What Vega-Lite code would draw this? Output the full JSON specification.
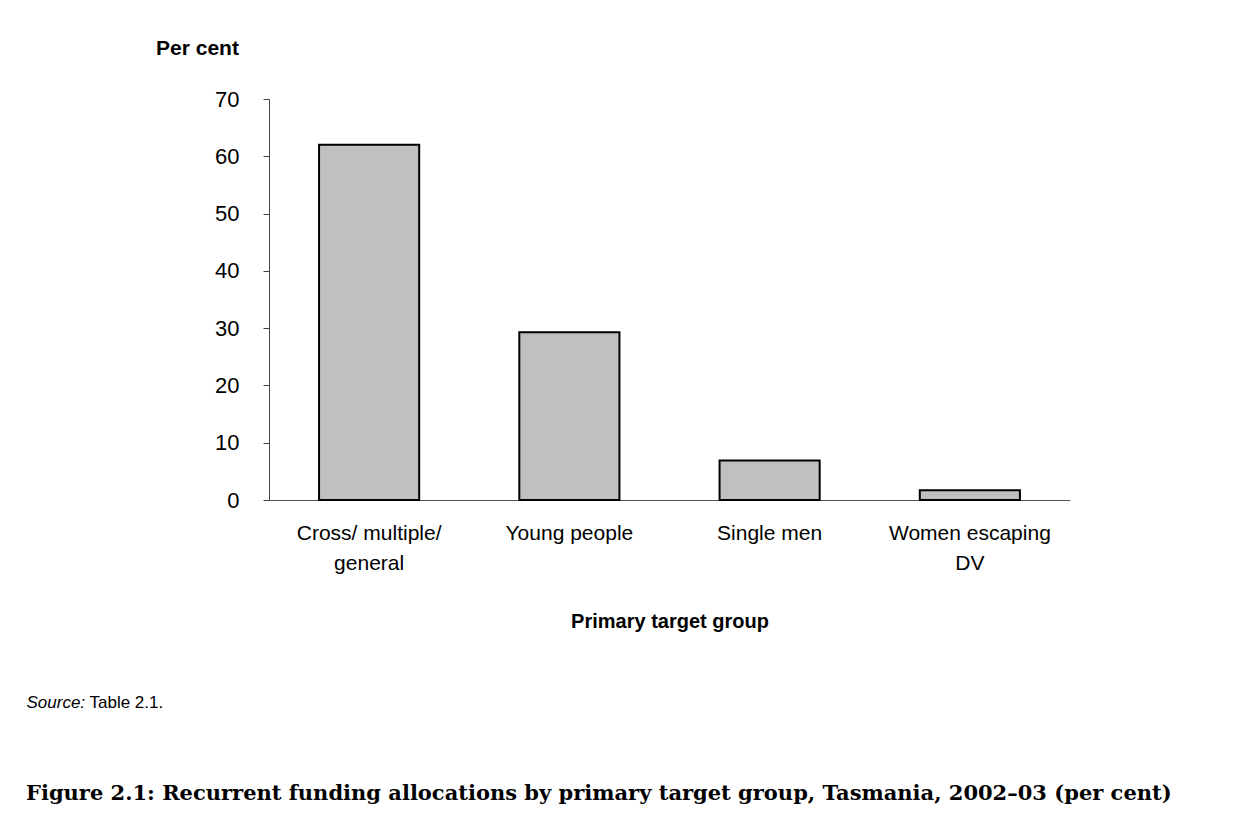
{
  "$schema": "https://vega.github.io/schema/vega-lite/v6.json",
  "width": 801,
  "height": 401,
  "autosize": {"type": "none"},
  "padding": {"left": 269, "top": 99, "right": 169, "bottom": 323},
  "background": "white",
  "config": {"view": {"stroke": null}, "font": "Liberation Sans"},
  "data": {
    "values": [
      {"group": "Cross/ multiple/ general", "percent": 62.0},
      {"group": "Young people", "percent": 29.3},
      {"group": "Single men", "percent": 6.9},
      {"group": "Women escaping DV", "percent": 1.7}
    ]
  },
  "title": {
    "text": "Figure 2.1: Recurrent funding allocations by primary target group, Tasmania, 2002–03 (per cent)",
    "orient": "bottom",
    "anchor": "start",
    "frame": "group",
    "dx": -243,
    "offset": 90,
    "baseline": "alphabetic",
    "font": "DejaVu Serif",
    "fontSize": 21,
    "fontWeight": "bold",
    "color": "black"
  },
  "layer": [
    {
      "mark": {"type": "bar", "fill": "#c0c0c0", "stroke": "black", "strokeWidth": 2},
      "encoding": {
        "x": {
          "field": "group",
          "type": "nominal",
          "sort": null,
          "scale": {"paddingInner": 0.5, "paddingOuter": 0.25},
          "axis": {
            "title": "Primary target group",
            "titleFontSize": 20,
            "titleFontWeight": "bold",
            "titleColor": "black",
            "titleY": 121,
            "titleBaseline": "middle",
            "labelAngle": 0,
            "labelFontSize": 21,
            "labelColor": "black",
            "labelPadding": 22,
            "labelLineHeight": 30,
            "labelExpr": "datum.value == 'Cross/ multiple/ general' ? ['Cross/ multiple/', 'general'] : datum.value == 'Women escaping DV' ? ['Women escaping', 'DV'] : datum.label",
            "ticks": false,
            "tickSize": 0,
            "domainColor": "#555",
            "domainWidth": 1
          }
        },
        "y": {
          "field": "percent",
          "type": "quantitative",
          "scale": {"domain": [0, 70], "nice": false},
          "axis": {
            "title": "Per cent",
            "titleAngle": 0,
            "titleX": -72,
            "titleY": -51,
            "titleAlign": "center",
            "titleBaseline": "middle",
            "titleFontSize": 21,
            "titleFontWeight": "bold",
            "titleColor": "black",
            "values": [0, 10, 20, 30, 40, 50, 60, 70],
            "labelFontSize": 22,
            "labelColor": "black",
            "labelPadding": 24,
            "tickSize": 6,
            "tickColor": "#444",
            "domainColor": "#444",
            "grid": false
          }
        }
      }
    },
    {
      "mark": {"type": "bar", "opacity": 0},
      "encoding": {
        "x": {
          "field": "group",
          "type": "nominal",
          "sort": null,
          "axis": {
            "orient": "top",
            "title": "Table 2.1.",
            "labels": false,
            "ticks": false,
            "domain": false,
            "titleX": -180,
            "titleY": 603,
            "titleAlign": "left",
            "titleBaseline": "middle",
            "titleFontSize": 17,
            "titleFontWeight": "normal",
            "titleColor": "black"
          }
        },
        "y": {
          "field": "percent",
          "type": "quantitative",
          "axis": {
            "orient": "right",
            "title": "Source:",
            "labels": false,
            "ticks": false,
            "domain": false,
            "grid": false,
            "titleAngle": 0,
            "titleX": -1044,
            "titleY": 603,
            "titleAlign": "left",
            "titleBaseline": "middle",
            "titleFontSize": 17,
            "titleFontWeight": "normal",
            "titleFontStyle": "italic",
            "titleColor": "black"
          }
        }
      }
    }
  ],
  "resolve": {"axis": {"x": "independent", "y": "independent"}}
}
